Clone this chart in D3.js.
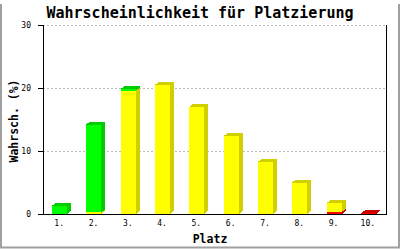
<!DOCTYPE html>
<html><head><meta charset="utf-8">
<script src="https://cdn.jsdelivr.net/npm/d3@7"></script>
<style>body{margin:0;background:#fff}svg{display:block}</style>
</head><body>
<script>
const categories = ["1.","2.","3.","4.","5.","6.","7.","8.","9.","10."];
const redValues    = [0, 0, 0, 0, 0, 0, 0, 0, 0.35, 0.12];
const yellowValues = [0, 0.25, 19.6, 20.5, 17.0, 12.4, 8.3, 5.0, 1.45, 0];
const greenValues  = [1.3, 13.95, 0.28, 0, 0, 0, 0, 0, 0, 0];
const yTicks = [0, 10, 20, 30];
const title = "Wahrscheinlichkeit für Platzierung";
const xTitle = "Platz";
const yTitle = "Wahrsch. (%)";

const W = 400, H = 250;
const m = {left: 43, right: 386, top: 25, bottom: 214};
const svg = d3.select("body").append("svg").attr("width", W).attr("height", H);
const mono = "'DejaVu Sans Mono', 'Liberation Mono', monospace";

const x = d3.scaleBand().domain(categories).range([m.left, m.right]);
const y = d3.scaleLinear().domain([0, 30]).range([m.bottom, m.top]);

// frame
svg.append("line").attr("x1",1).attr("x2",1).attr("y1",4).attr("y2",248).attr("stroke","#a0a0a0").attr("stroke-width",2);
svg.append("line").attr("x1",399).attr("x2",399).attr("y1",4).attr("y2",248).attr("stroke","#a0a0a0").attr("stroke-width",2);
svg.append("line").attr("x1",0).attr("x2",400).attr("y1",247.5).attr("y2",247.5).attr("stroke","#a0a0a0").attr("stroke-width",2);

// grid
svg.append("g").selectAll("line").data(yTicks.filter(d => d > 0)).join("line")
  .attr("x1", m.left).attr("x2", m.right)
  .attr("y1", d => Math.round(y(d)) + 0.5).attr("y2", d => Math.round(y(d)) + 0.5)
  .attr("stroke", "#bdbdbd").attr("stroke-dasharray", "2,2").attr("shape-rendering","crispEdges");

// bars
const series = [
  {vals: redValues, front: "#ff0000", side: "#cc0000"},
  {vals: yellowValues, front: "#ffff00", side: "#d0d000"},
  {vals: greenValues, front: "#00ff00", side: "#00cc00"}
];
const dx = 4, dy = 3, bw = 15;
const bars = svg.append("g").attr("shape-rendering","crispEdges");
categories.forEach((c, i) => {
  let base = 0;
  const x0 = Math.round(x(c) + x.bandwidth()/2 - 8);
  series.forEach(s => {
    const v = s.vals[i];
    if (v <= 0) return;
    const yb = y(base), yt = y(base + v);
    base += v;
    const g = bars.append("g");
    // side
    g.append("path").attr("d", `M${x0+bw},${yt} L${x0+bw+dx},${yt-dy} L${x0+bw+dx},${yb-dy} L${x0+bw},${yb} Z`).attr("fill", s.side);
    // top
    g.append("path").attr("d", `M${x0},${yt} L${x0+dx},${yt-dy} L${x0+bw+dx},${yt-dy} L${x0+bw},${yt} Z`).attr("fill", s.side);
    // front
    g.append("rect").attr("x", x0).attr("y", yt).attr("width", bw).attr("height", Math.max(0, yb - yt)).attr("fill", s.front);
  });
});

// axes lines
svg.append("line").attr("x1", m.left+0.5).attr("x2", m.left+0.5).attr("y1", m.top).attr("y2", m.bottom+1).attr("stroke","#000");
svg.append("line").attr("x1", m.right+0.5).attr("x2", m.right+0.5).attr("y1", m.top).attr("y2", m.bottom+1).attr("stroke","#000");
svg.append("line").attr("x1", m.left).attr("x2", m.right+1).attr("y1", m.bottom+0.5).attr("y2", m.bottom+0.5).attr("stroke","#000");

// y ticks
const yt = svg.append("g");
yt.selectAll("line").data(yTicks).join("line")
  .attr("x1", m.left-5).attr("x2", m.left)
  .attr("y1", d => Math.round(y(d))+0.5).attr("y2", d => Math.round(y(d))+0.5).attr("stroke","#000");
yt.selectAll("text").data(yTicks).join("text")
  .attr("x", 31).attr("y", d => y(d)+3).attr("text-anchor","end")
  .attr("font-family", mono).attr("font-size", 8).text(d => d);

// x labels
svg.append("g").selectAll("text").data(categories).join("text")
  .attr("x", d => x(d) + x.bandwidth()/2 - 1).attr("y", 226).attr("text-anchor","middle")
  .attr("font-family", mono).attr("font-size", 8).text(d => d);

// titles
svg.append("text").attr("x", 200).attr("y", 18).attr("text-anchor","middle")
  .attr("font-family", mono).attr("font-weight","bold").attr("font-size", 15).text(title);
svg.append("text").attr("x", 210).attr("y", 243).attr("text-anchor","middle")
  .attr("font-family", mono).attr("font-weight","bold").attr("font-size", 11.5).text(xTitle);
svg.append("text").attr("transform","translate(18,121) rotate(-90)").attr("text-anchor","middle")
  .attr("font-family", mono).attr("font-weight","bold").attr("font-size", 11.5).text(yTitle);
</script>
</body></html>
